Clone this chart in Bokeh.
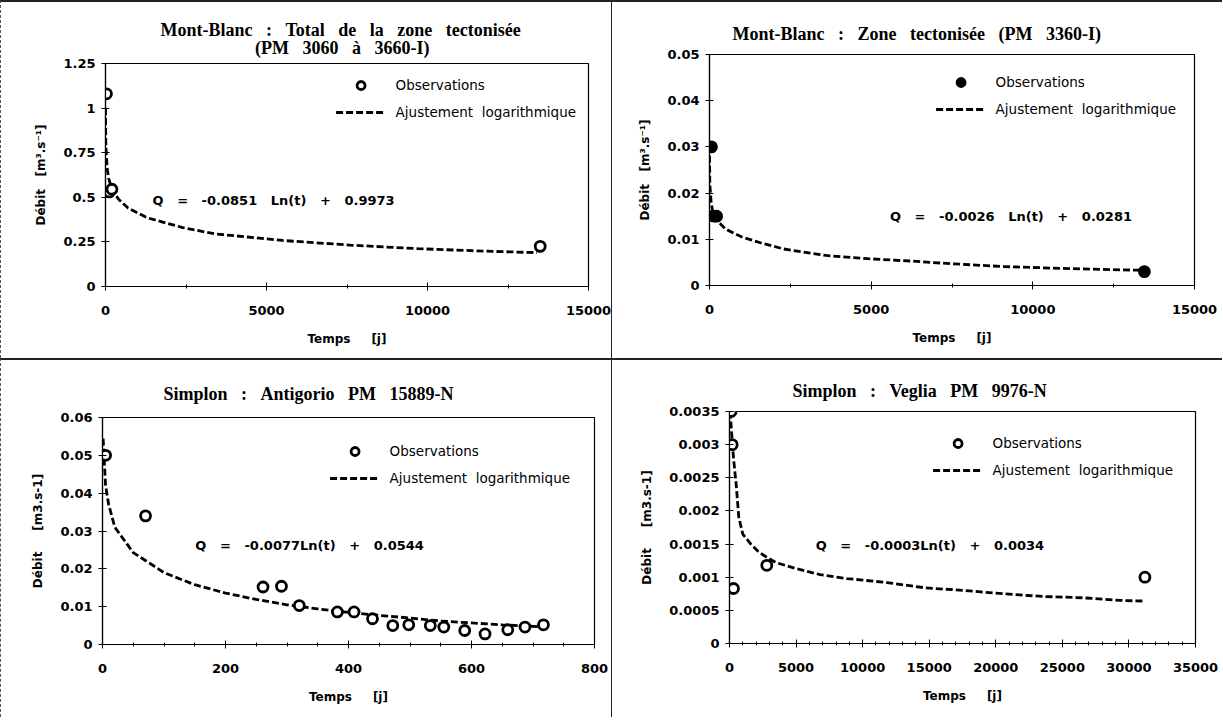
import numpy as np
from bokeh.plotting import figure
from bokeh.layouts import row, column
from bokeh.models import Label, FixedTicker, Range1d
from bokeh.embed import file_html
from bokeh.resources import INLINE

# ---------------- data ----------------
# Panel 1 : Mont-Blanc, total de la zone tectonisée
p1_title = ["Mont-Blanc : Total de la zone tectonisée", "(PM 3060 à 3660-I)"]
p1_obs_t = [30, 120, 200, 13500]
p1_obs_q = [1.08, 0.53, 0.545, 0.225]
p1_fit_t = [1, 10, 50, 100, 200, 400, 700, 1300, 2400, 3400, 5500, 7600, 9700, 11800, 13400]
p1_fit_q = [1.00, 0.80, 0.665, 0.605, 0.545, 0.49, 0.44, 0.385, 0.33, 0.295, 0.258, 0.232, 0.212, 0.198, 0.19]
p1_xticks = [0, 5000, 10000, 15000]
p1_yticks = [0, 0.25, 0.5, 0.75, 1, 1.25]
p1_eq = "Q   =   -0.0851   Ln(t)   +   0.9973"

# Panel 2 : Mont-Blanc, zone tectonisée PM 3360-I
p2_title = ["Mont-Blanc : Zone tectonisée (PM 3360-I)"]
p2_obs_t = [60, 120, 220, 13450]
p2_obs_q = [0.030, 0.015, 0.015, 0.003]
p2_fit_t = [1, 10, 50, 100, 200, 500, 1000, 1600, 2300, 3600, 4900, 6200, 7500, 9100, 10900, 12700, 13400]
p2_fit_q = [0.0281, 0.022, 0.018, 0.016, 0.0143, 0.0122, 0.0105, 0.0092, 0.0079, 0.0065, 0.0058,
            0.0053, 0.0047, 0.0041, 0.0037, 0.0034, 0.0033]
p2_xticks = [0, 5000, 10000, 15000]
p2_yticks = [0, 0.01, 0.02, 0.03, 0.04, 0.05]
p2_eq = "Q   =   -0.0026   Ln(t)   +   0.0281"

# Panel 3 : Simplon, Antigorio PM 15889-N
p3_title = ["Simplon : Antigorio PM 15889-N"]
p3_obs_t = [5, 70, 261, 291, 320, 382, 409, 439, 472, 498, 533, 555, 589, 622, 659, 687, 717]
p3_obs_q = [0.050, 0.034, 0.0152, 0.0154, 0.0103, 0.0086, 0.0086, 0.0068, 0.0050, 0.0052, 0.0050,
            0.0046, 0.0037, 0.0028, 0.0039, 0.0046, 0.0052]
p3_fit_t = [1, 5, 10, 20, 50, 100, 150, 200, 250, 300, 350, 400, 450, 500, 550, 600, 650, 700, 720]
p3_fit_q = [0.0544, 0.042, 0.037, 0.031, 0.0243, 0.019, 0.0158, 0.0136, 0.0119, 0.0105, 0.0094,
            0.0085, 0.0077, 0.0070, 0.0062, 0.0057, 0.0052, 0.0048, 0.0046]
p3_xticks = [0, 200, 400, 600, 800]
p3_yticks = [0, 0.01, 0.02, 0.03, 0.04, 0.05, 0.06]
p3_eq = "Q   =   -0.0077Ln(t)   +   0.0544"

# Panel 4 : Simplon, Veglia PM 9976-N
p4_title = ["Simplon : Veglia PM 9976-N"]
p4_obs_t = [120, 200, 300, 2800, 31200]
p4_obs_q = [0.0035, 0.0030, 0.00083, 0.00118, 0.0010]
p4_fit_t = [50, 150, 300, 500, 700, 1000, 1600, 2200, 2800, 3500, 5000, 6800, 8800, 11800, 14700,
            17600, 20600, 23500, 26500, 29400, 31200]
p4_fit_q = [0.0035, 0.0032, 0.0028, 0.0024, 0.0019, 0.00165, 0.0015, 0.00138, 0.0013, 0.00122,
            0.00113, 0.00104, 0.00098, 0.00092, 0.00084, 0.0008, 0.00075, 0.00071, 0.00069,
            0.00065, 0.00064]
p4_xticks = [0, 5000, 10000, 15000, 20000, 25000, 30000, 35000]
p4_yticks = [0, 0.0005, 0.001, 0.0015, 0.002, 0.0025, 0.003, 0.0035]
p4_eq = "Q   =   -0.0003Ln(t)   +   0.0034"

YLAB_SUP = "Débit   [m³.s⁻¹]"
YLAB_PLAIN = "Débit     [m3.s-1]"
XLAB = "Temps     [j]"

SANS = "DejaVu Sans"
SERIF = "Liberation Serif"
NB = "\u00a0"


def sp(s):
    """keep the wide spacing of the original in SVG text"""
    return s.replace(" ", NB)


def wide(s):
    return s.replace(" ", NB * 3)


def make_panel(title_lines, title_indent, obs_t, obs_q, fit_t, fit_q, xticks, yticks, xminor_step,
               ylabel, eq, eq_x, eq_y, width, height, borders, obs_fill, leg_margin,
               title_gap, title_offset, css):
    bl, br, bt, bb = borders
    p = figure(width=width, height=height, output_backend="svg", toolbar_location=None,
               x_range=Range1d(xticks[0], xticks[-1]), y_range=Range1d(yticks[0], yticks[-1]),
               min_border_left=bl, min_border_right=br, min_border_top=bt, min_border_bottom=bb)
    p.xgrid.visible = False
    p.ygrid.visible = False
    p.outline_line_color = "black"
    p.outline_line_width = 1.2
    p.background_fill_color = "white"
    p.border_fill_color = "white"
    if css:
        p.styles = css

    # title (multi-line when needed; later lines centred with leading spaces)
    lines = [wide(title_lines[0])] + [NB * title_indent + wide(t) for t in title_lines[1:]]
    p.title.text = "\n".join(lines)
    p.title.align = "left"
    p.title.offset = title_offset
    p.title.text_font = SERIF
    p.title.text_font_style = "bold"
    p.title.text_font_size = "18px"
    p.title.text_line_height = 0.9
    p.title.text_color = "black"
    p.title.standoff = title_gap

    # axes
    minor = list(np.arange(xticks[0], xticks[-1] + 1e-9, xminor_step)) if xminor_step else []
    p.xaxis.ticker = FixedTicker(ticks=xticks, minor_ticks=minor)
    p.yaxis.ticker = FixedTicker(ticks=yticks)
    p.xaxis.major_label_overrides = {t: ("%g" % t) for t in xticks}
    p.yaxis.major_label_overrides = {t: ("%g" % t) for t in yticks}
    for ax in (p.xaxis[0], p.yaxis[0]):
        ax.axis_line_color = "black"
        ax.axis_line_width = 1.2
        ax.major_tick_line_color = "black"
        ax.major_tick_in = 4
        ax.major_tick_out = 4
        ax.minor_tick_line_color = "black"
        ax.minor_tick_in = 2
        ax.minor_tick_out = 2
        ax.major_label_text_font = SANS
        ax.major_label_text_font_style = "bold"
        ax.major_label_text_font_size = "13px"
        ax.major_label_text_color = "black"
        ax.axis_label_text_font = SANS
        ax.axis_label_text_font_style = "bold"
        ax.axis_label_text_font_size = "12px"
        ax.axis_label_text_color = "black"
    p.xaxis.axis_label = sp(XLAB)
    p.yaxis.axis_label = sp(ylabel)
    p.xaxis.major_label_standoff = 15
    p.xaxis.axis_label_standoff = 14
    p.yaxis.major_label_standoff = 6
    p.yaxis.axis_label_standoff = 12

    # data
    p.line(fit_t, fit_q, line_color="black", line_width=2.8, line_dash="7 3",
           legend_label=sp("Ajustement  logarithmique"))
    p.scatter(obs_t, obs_q, marker="circle", size=10, line_color="black", line_width=2.8,
              fill_color=obs_fill, legend_label="Observations")

    leg = p.legend[0]
    leg.items = [leg.items[1], leg.items[0]]
    leg.location = "top_right"
    leg.border_line_color = None
    leg.background_fill_alpha = 0
    leg.label_text_font = SANS
    leg.label_text_font_size = "13.5px"
    leg.label_text_color = "black"
    leg.glyph_width = 50
    leg.glyph_height = 20
    leg.spacing = 7
    leg.margin = leg_margin
    leg.padding = 0
    leg.label_standoff = 10

    p.add_layout(Label(x=eq_x, y=eq_y, text=sp(eq), text_font=SANS, text_font_style="bold",
                       text_font_size="13px", text_color="black", text_baseline="middle"))
    return p


p1 = make_panel(p1_title, 21, p1_obs_t, p1_obs_q, p1_fit_t, p1_fit_q, p1_xticks, p1_yticks, 2500,
                YLAB_SUP, p1_eq, 1460, 0.482, 611, 358, (104, 24, 61, 74), "white", 12, 12, 55,
                {"border-top": "2px solid #222", "border-left": "1px dashed #555"})
p2 = make_panel(p2_title, 0, p2_obs_t, p2_obs_q, p2_fit_t, p2_fit_q, p2_xticks, p2_yticks, 2500,
                YLAB_SUP, p2_eq, 5580, 0.0149, 611, 358, (97, 29, 52, 75), "black", 18, 21, 23,
                {"border-top": "2px solid #222", "border-left": "1px solid #222"})
p3 = make_panel(p3_title, 0, p3_obs_t, p3_obs_q, p3_fit_t, p3_fit_q, p3_xticks, p3_yticks, 50,
                YLAB_PLAIN, p3_eq, 151, 0.0262, 611, 359, (101, 18, 57, 75), "white", 24, 27, 61,
                {"border-top": "2px solid #222", "border-left": "1px dashed #555"})
p4 = make_panel(p4_title, 0, p4_obs_t, p4_obs_q, p4_fit_t, p4_fit_q, p4_xticks, p4_yticks, 1000,
                YLAB_PLAIN, p4_eq, 6470, 0.00148, 611, 359, (117, 28, 51, 76), "white", 22, 21, 63,
                {"border-top": "2px solid #222", "border-left": "1px solid #222"})

layout = column(row(column(p1), column(p2)), row(column(p3), column(p4)))

open("out.html", "w").write(file_html(layout, INLINE))
